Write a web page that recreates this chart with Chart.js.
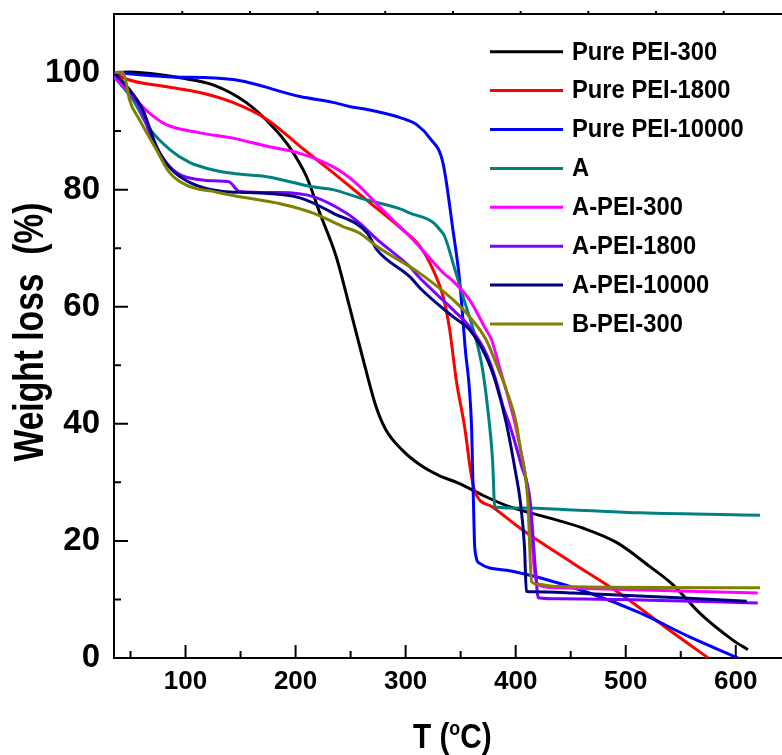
<!DOCTYPE html>
<html>
<head>
<meta charset="utf-8">
<script src="https://cdn.jsdelivr.net/npm/chart.js@4.4.1/dist/chart.umd.min.js"></script>
<style>
  body { margin: 0; background: #fff; }
</style>
</head>
<body>
<canvas id="tga" width="782" height="755"></canvas>
<script>
// tick values
const xTicks = [100, 200, 300, 400, 500, 600];
const xMinor = [50, 150, 250, 350, 450, 550];
const yTicks = [0, 20, 40, 60, 80, 100];
const yMinor = [10, 30, 50, 70, 90];
const topTicks = [97, 158.5, 220, 281.5, 343, 404.5, 466, 527.5, 589];

// Pure PEI-300
const tPure300 = [35, 50, 70, 95, 125, 155, 179, 194, 210, 222, 237, 249, 260, 273, 282, 297, 313, 330, 349, 370, 395, 431, 461, 492, 522, 543, 567, 597, 611];
const wPure300 = [100, 100.1, 99.8, 99.1, 97.9, 94.9, 90.8, 87.4, 82.2, 76, 68.5, 60, 52, 43, 39, 35.5, 33, 31.2, 29.8, 27.8, 25.8, 23.9, 22.2, 19.7, 15.6, 12.5, 7.7, 3.1, 1.4];
// Pure PEI-1800
const tPure1800 = [35, 46, 82, 113, 143, 174, 204, 234, 264, 295, 313, 325, 334, 340, 346, 354, 359, 363, 379, 406, 452, 494, 543, 575];
const wPure1800 = [100, 98.9, 97.6, 96.6, 94.9, 92, 87.4, 82.9, 78.3, 73.5, 70.3, 66.3, 61.8, 56.1, 47.5, 39, 32, 28.4, 25.8, 21.9, 16.2, 11.1, 4.3, 0];
// Pure PEI-10000
const tPure10000 = [35, 83, 143, 204, 234, 249, 265, 295, 310, 322, 334, 343, 349, 354, 360, 362.5, 364, 367, 392, 422, 467, 513, 558, 602];
const wPure10000 = [100, 99.3, 98.8, 95.9, 94.9, 94.2, 93.7, 92.3, 91.1, 88.8, 84.5, 73.1, 64.6, 53.2, 39, 20, 17.3, 16.2, 15.0, 13.7, 11.1, 7.7, 3.6, 0];
// A
const tA = [35, 52, 67, 86, 104, 113, 134, 158, 174, 215, 234, 258, 274, 295, 304, 325, 331, 335.5, 343, 352, 364, 370, 376, 379, 381, 406, 452, 513, 622];
const wA = [99.3, 95.4, 90.5, 86.8, 84.6, 84, 83, 82.5, 82.2, 80.5, 80, 78.6, 77.8, 76.7, 76, 74.4, 73.2, 72, 67.5, 61.8, 54.4, 49.2, 40.2, 33.8, 25.8, 25.6, 25.3, 24.8, 24.4];
// A-PEI-300
const tA300 = [35.5, 52, 67, 82.5, 113, 143, 174, 204, 228, 243, 258, 273, 288, 304, 319, 334, 343, 358, 373, 378, 386, 394.5, 400.6, 413, 417, 422, 437, 620];
const wA300 = [99.3, 95.9, 93.1, 91.1, 89.7, 88.8, 87.4, 86.2, 84.5, 82.9, 80.6, 77.7, 74.9, 72, 68.9, 65.8, 64.4, 61.2, 56.1, 54.4, 49.2, 43.6, 39, 25.3, 15, 12.4, 12, 11.1];
// A-PEI-1800
const tA1800 = [35.5, 46, 58, 70, 82.5, 94.5, 113, 137, 140, 149, 186, 216, 246, 258, 274, 304, 313, 343, 358, 373, 382, 388.5, 395, 405, 413, 418, 420.5, 440, 620];
const wA1800 = [99.7, 97.6, 94.2, 88.5, 84.6, 82.6, 81.7, 81.4, 81.3, 79.7, 79.5, 78.8, 76, 74.3, 71.5, 66.8, 64.9, 59.5, 56.6, 52.1, 47.5, 43, 39.5, 33, 27, 15, 10.3, 10.1, 9.4];
// A-PEI-10000
const tA10000 = [35, 49, 61, 73.6, 85.5, 104, 134, 158, 204, 234, 265, 274, 304, 313, 343, 358, 373, 382, 391.5, 400, 404, 408, 409.7, 415, 452, 610];
const wA10000 = [100, 97.1, 93.7, 87.4, 83.8, 81.2, 79.7, 79.5, 78.6, 76, 72.6, 69.7, 65.1, 63.2, 58.3, 56.1, 51.5, 47, 40.1, 31.6, 27, 19, 11.4, 11.3, 11.1, 9.7];
// B-PEI-300
const tB300 = [35.5, 43, 46, 49, 58, 73.6, 85.5, 104, 125, 143, 186, 216, 243, 258, 274, 313, 343, 358, 373, 382, 391.5, 400.6, 404, 411, 414.5, 420, 437, 622];
const wB300 = [100, 100, 98.3, 95.4, 92, 86.8, 82.9, 80.5, 79.7, 79, 77.6, 76, 73.7, 72.6, 70.3, 65.7, 61.2, 58.3, 54.4, 50.4, 45.8, 40.1, 36, 27, 13, 12.6, 12.2, 12];

const seriesNames = ["Pure PEI-300", "Pure PEI-1800", "Pure PEI-10000", "A", "A-PEI-300", "A-PEI-1800", "A-PEI-10000", "B-PEI-300"];
const seriesColors = ["#000000", "#ff0000", "#0000ff", "#008080", "#ff00ff", "#8000ff", "#000080", "#808000"];
const seriesT = [tPure300, tPure1800, tPure10000, tA, tA300, tA1800, tA10000, tB300];
const seriesW = [wPure300, wPure1800, wPure10000, wA, wA300, wA1800, wA10000, wB300];

Chart.defaults.font.family = "'Liberation Sans', Arial, sans-serif";
Chart.defaults.color = "#000";

const datasets = seriesNames.map((name, i) => ({
  label: name,
  data: seriesT[i].map((t, j) => ({ x: t, y: seriesW[i][j] })),
  borderColor: seriesColors[i],
  borderWidth: 3,
  pointRadius: 0,
  fill: false,
  cubicInterpolationMode: "monotone",
  order: seriesNames.length - i, // later series on top, like the original
}));

const decorations = {
  id: "decorations",
  beforeDatasetsDraw(chart) {
    const { ctx, chartArea: a, scales: { x, y } } = chart;
    ctx.save();
    ctx.strokeStyle = "#000";
    ctx.lineWidth = 2;
    ctx.beginPath();
    xTicks.forEach((v) => { const p = x.getPixelForValue(v); ctx.moveTo(p, a.bottom); ctx.lineTo(p, a.bottom - 13); });
    xMinor.forEach((v) => { const p = x.getPixelForValue(v); ctx.moveTo(p, a.bottom); ctx.lineTo(p, a.bottom - 7); });
    yTicks.forEach((v) => { const p = y.getPixelForValue(v); ctx.moveTo(a.left, p); ctx.lineTo(a.left + 14, p); });
    yMinor.forEach((v) => { const p = y.getPixelForValue(v); ctx.moveTo(a.left, p); ctx.lineTo(a.left + 7, p); });
    topTicks.forEach((v) => { const p = x.getPixelForValue(v); ctx.moveTo(p, a.top); ctx.lineTo(p, a.top - 3); });
    ctx.stroke();
    ctx.restore();
  },
  afterDraw(chart) {
    const { ctx, chartArea: a } = chart;
    ctx.save();
    ctx.fillStyle = "#000";

    // legend
    ctx.textBaseline = "middle";
    ctx.textAlign = "left";
    chart.data.datasets.forEach((ds, i) => {
      const yy = 51.7 + 38.9 * i;
      ctx.strokeStyle = ds.borderColor;
      ctx.lineWidth = 3;
      ctx.beginPath();
      ctx.moveTo(490, yy);
      ctx.lineTo(563, yy);
      ctx.stroke();
      ctx.save();
      ctx.translate(572, yy + 1);
      ctx.scale(0.95, 1);
      ctx.font = "bold 25px 'Liberation Sans', Arial, sans-serif";
      ctx.fillText(ds.label, 0, 0);
      ctx.restore();
    });

    // y title
    ctx.save();
    ctx.translate(43, (a.top + a.bottom) / 2 - 4);
    ctx.rotate(-Math.PI / 2);
    ctx.scale(0.8, 1);
    ctx.font = "bold 42px 'Liberation Sans', Arial, sans-serif";
    ctx.textAlign = "center";
    ctx.textBaseline = "alphabetic";
    ctx.fillText("Weight loss  (%)", 0, 0);
    ctx.restore();

    // x title with superscript o
    ctx.save();
    ctx.translate(413, 748);
    ctx.scale(0.85, 1);
    ctx.textAlign = "left";
    ctx.textBaseline = "alphabetic";
    ctx.font = "bold 35px 'Liberation Sans', Arial, sans-serif";
    const part1 = "T (";
    ctx.fillText(part1, 0, 0);
    let w = ctx.measureText(part1).width;
    ctx.font = "bold 21px 'Liberation Sans', Arial, sans-serif";
    ctx.fillText("o", w, -13);
    w += ctx.measureText("o").width;
    ctx.font = "bold 35px 'Liberation Sans', Arial, sans-serif";
    ctx.fillText("C)", w, 0);
    ctx.restore();

    ctx.restore();
  },
};

new Chart(document.getElementById("tga"), {
  type: "line",
  data: { datasets },
  plugins: [decorations],
  options: {
    responsive: false,
    animation: false,
    layout: { padding: { top: 14, right: 0, left: 0, bottom: 0 } },
    plugins: { legend: { display: false }, tooltip: { enabled: false } },
    scales: {
      x: {
        type: "linear",
        min: 35,
        max: 642,
        afterBuildTicks: (s) => { s.ticks = xTicks.map((v) => ({ value: v })); },
        afterFit: (s) => { s.height = 97; s.paddingLeft = 0; s.paddingRight = 0; },
        grid: { display: false, drawTicks: false },
        border: { display: true, color: "#000", width: 2 },
        ticks: { font: { size: 26, weight: "bold" }, color: "#000", padding: 8, maxRotation: 0, autoSkip: false },
      },
      xTop: {
        type: "linear",
        position: "top",
        min: 35,
        max: 642,
        afterFit: (s) => { s.height = 0; s.paddingLeft = 0; s.paddingRight = 0; },
        grid: { display: false, drawTicks: false },
        border: { display: true, color: "#000", width: 2 },
        ticks: { display: false },
      },
      y: {
        min: 0,
        max: 110,
        afterBuildTicks: (s) => { s.ticks = yTicks.map((v) => ({ value: v })); },
        afterFit: (s) => { s.width = 114; s.paddingTop = 0; s.paddingBottom = 0; },
        grid: { display: false, drawTicks: false },
        border: { display: true, color: "#000", width: 2 },
        ticks: { font: { size: 33, weight: "bold" }, color: "#000", padding: 14 },
      },
    },
  },
});
</script>
</body>
</html>
